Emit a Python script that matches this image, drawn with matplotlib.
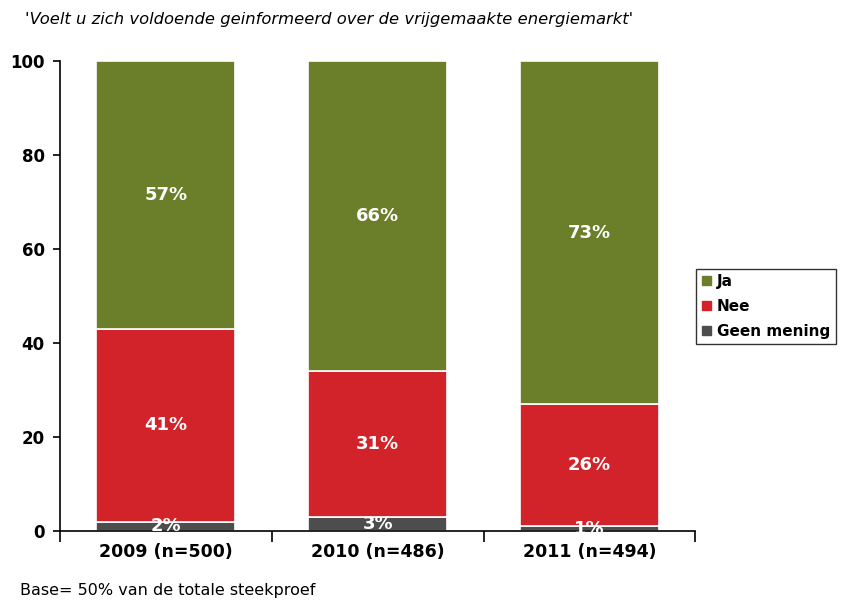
import numpy as np
import matplotlib.pyplot as plt
from matplotlib.patches import Patch

# Data
categories = ['2009 (n=500)', '2010 (n=486)', '2011 (n=494)']
geen_mening = [2, 3, 1]
nee = [41, 31, 26]
ja = [57, 66, 73]

series = [('Geen mening', geen_mening, '#4d4d4d'),
          ('Nee', nee, '#d2232a'),
          ('Ja', ja, '#6b7f2a')]

plt.rcParams['font.family'] = ['DejaVu Sans']

fig = plt.figure(figsize=(8.45, 6.01), dpi=100)
ax = fig.add_axes([0.071, 0.1165, 0.752, 0.782])

x = np.arange(len(categories))
bottom = np.zeros(len(categories))
handles = {}
for name, vals, color in series:
    vals = np.array(vals, dtype=float)
    ax.bar(x, vals, width=0.657, bottom=bottom, color=color,
           edgecolor='white', linewidth=1.2, zorder=2)
    handles[name] = Patch(color=color)
    for xi, b, v in zip(x, bottom, vals):
        ax.text(xi, b + v / 2, f'{int(v)}%', ha='center', va='center',
                color='white', fontsize=13, fontweight='bold', zorder=3)
    bottom += vals

ax.set_xlim(-0.5, 2.5)
ax.set_ylim(0, 100)
ax.set_yticks([0, 20, 40, 60, 80, 100])
ax.tick_params(axis='y', labelsize=12, length=5, width=1.2, pad=6)
for lbl in ax.get_yticklabels():
    lbl.set_fontweight('bold')

# tick marks at category boundaries, labels centred without ticks
ax.set_xticks([-0.5, 0.5, 1.5, 2.5], minor=True)
ax.tick_params(axis='x', which='minor', length=8, width=1.2)
ax.set_xticks(x)
ax.tick_params(axis='x', which='major', length=0, pad=9)
ax.set_xticklabels(categories, fontsize=12.5, fontweight='bold')
for lbl in ax.get_xticklabels():
    lbl.set_fontweight('bold')

for s in ['top', 'right']:
    ax.spines[s].set_visible(False)
for s in ['left', 'bottom']:
    ax.spines[s].set_linewidth(1.2)

leg = ax.legend([handles['Ja'], handles['Nee'], handles['Geen mening']],
                ['Ja', 'Nee', 'Geen mening'],
                loc='upper left', bbox_to_anchor=(0.824, 0.553),
                bbox_transform=fig.transFigure, fancybox=False,
                edgecolor='black', handlelength=0.6, handleheight=0.6,
                handletextpad=0.4, labelspacing=0.65, borderpad=0.35,
                borderaxespad=0, prop={'weight': 'bold', 'size': 11})
leg.get_frame().set_linewidth(1.0)

fig.text(0.03, 0.968, "'Voelt u zich voldoende geinformeerd over de vrijgemaakte energiemarkt'",
         fontsize=11.8, style='italic', ha='left', va='center')
fig.text(0.024, 0.018, 'Base= 50% van de totale steekproef', fontsize=11.5,
         ha='left', va='center')

plt.savefig('out.png', dpi=100)
